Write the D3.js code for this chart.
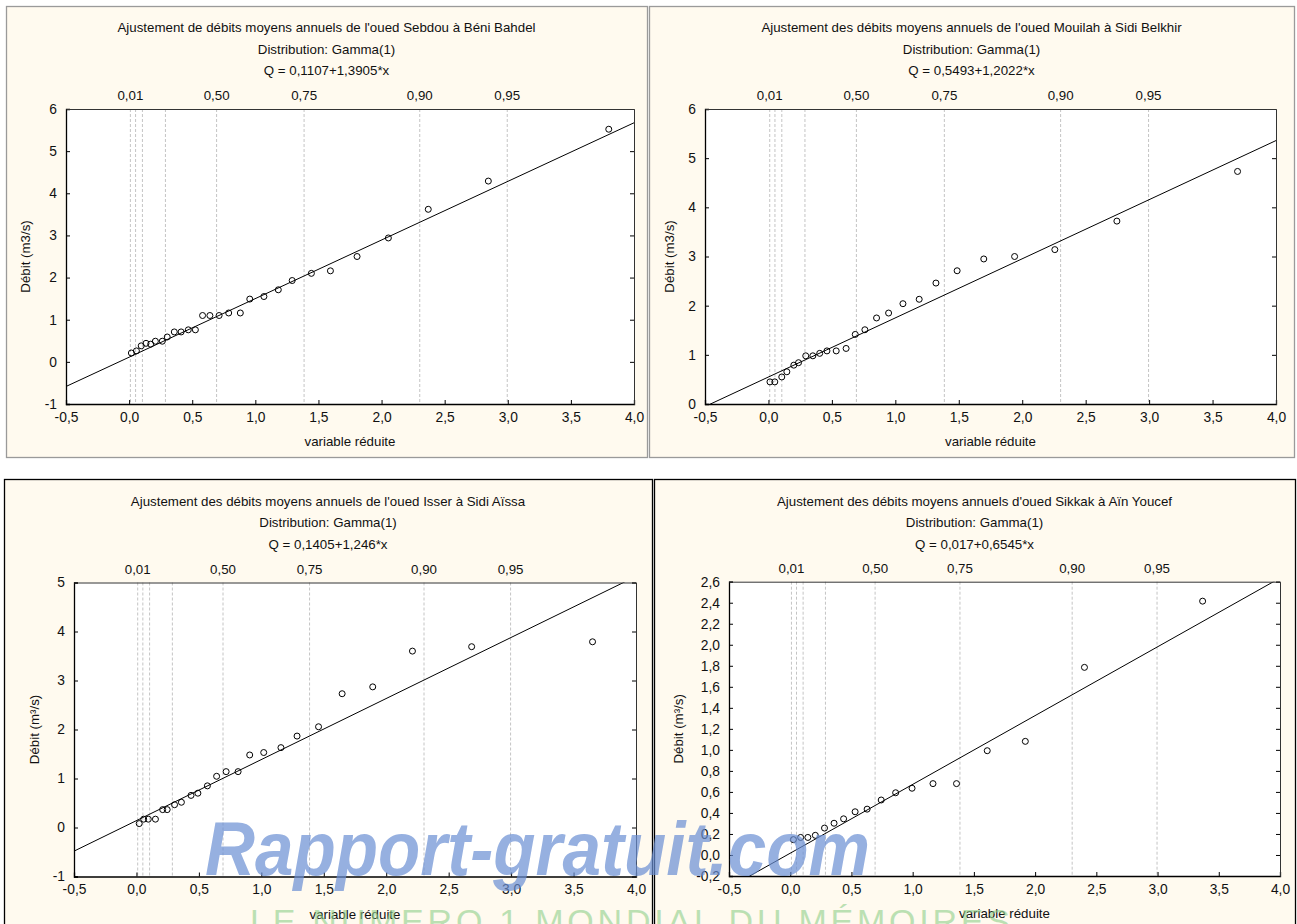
<!DOCTYPE html>
<html><head><meta charset="utf-8">
<script src="https://cdn.jsdelivr.net/npm/d3@7/dist/d3.min.js"></script>
<style>
html,body{margin:0;padding:0;background:#fff;}
svg{display:block;font-family:"Liberation Sans",Arial,sans-serif;}
</style></head>
<body><svg id="c" width="1297" height="924"></svg>
<script>
// ---------- DATA ----------
const xTicks = [-0.5,0,0.5,1,1.5,2,2.5,3,3.5,4];
const probLines = [0.01,0.05,0.10,0.25,0.50,0.75,0.90,0.95];
const probLabels = [0.01,0.50,0.75,0.90,0.95];

const titles = [
  "Ajustement de débits moyens annuels de l'oued Sebdou à Béni Bahdel",
  "Ajustement des débits moyens annuels de l'oued Mouilah à Sidi Belkhir",
  "Ajustement des débits moyens annuels de l'oued Isser à Sidi Aïssa",
  "Ajustement des débits moyens annuels d'oued Sikkak à Aïn Youcef"
];
const subtitle = "Distribution: Gamma(1)";
const equations = ["Q = 0,1107+1,3905*x","Q = 0,5493+1,2022*x","Q = 0,1405+1,246*x","Q = 0,017+0,6545*x"];
const fitIntercepts = [0.1107,0.5493,0.1405,0.017];
const fitSlopes = [1.3905,1.2022,1.246,0.6545];

const sebdouX = [0.018,0.058,0.096,0.134,0.171,0.208,0.263,0.302,0.358,0.412,0.469,0.525,0.582,0.64,0.713,0.789,0.881,0.956,1.068,1.182,1.292,1.444,1.595,1.806,2.054,2.37,2.846,3.80];
const sebdouY = [0.21,0.26,0.38,0.44,0.42,0.49,0.49,0.59,0.71,0.71,0.76,0.76,1.10,1.10,1.10,1.16,1.16,1.49,1.55,1.71,1.93,2.10,2.16,2.50,2.94,3.62,4.29,5.52];

const mouilahX = [0.012,0.05,0.105,0.145,0.2,0.237,0.294,0.35,0.404,0.461,0.534,0.612,0.684,0.76,0.852,0.947,1.06,1.188,1.32,1.487,1.697,1.94,2.257,2.746,3.697];
const mouilahY = [0.45,0.45,0.55,0.655,0.79,0.84,0.98,0.98,1.03,1.08,1.08,1.13,1.415,1.51,1.75,1.85,2.04,2.13,2.46,2.71,2.95,3.0,3.14,3.72,4.73];

const isserX = [0.022,0.058,0.095,0.152,0.21,0.246,0.305,0.36,0.437,0.492,0.568,0.642,0.718,0.814,0.907,1.019,1.157,1.286,1.458,1.647,1.892,2.21,2.684,3.652];
const isserY = [0.08,0.17,0.17,0.17,0.365,0.365,0.465,0.515,0.655,0.70,0.85,1.045,1.14,1.14,1.48,1.53,1.63,1.866,2.056,2.73,2.87,3.6,3.69,3.79];

const sikkakX = [0.026,0.085,0.144,0.205,0.28,0.358,0.436,0.53,0.628,0.743,0.861,0.995,1.166,1.358,1.609,1.92,2.403,3.368];
const sikkakY = [0.146,0.167,0.167,0.187,0.256,0.302,0.344,0.411,0.436,0.523,0.592,0.635,0.679,0.679,0.992,1.081,1.785,2.415];

const yTicksA = [-1,0,1,2,3,4,5,6];
const yTicksB = [0,1,2,3,4,5,6];
const yTicksC = [-1,0,1,2,3,4,5];
const yTicksD = [-0.2,0,0.2,0.4,0.6,0.8,1.0,1.2,1.4,1.6,1.8,2.0,2.2,2.4,2.6];

// ---------- LAYOUT ----------
const panels = [
  {frame:[6,6,641,451], stroke:"#9a9a9a", plot:[66,109,634,404], yDom:[-1,6], yT:yTicksA, dec:0, xs:sebdouX, ys:sebdouY, ylab:"Débit  (m3/s)", ylx:26, top:true},
  {frame:[649,6,645,451], stroke:"#9a9a9a", plot:[705,109,1276,404], yDom:[0,6], yT:yTicksB, dec:0, xs:mouilahX, ys:mouilahY, ylab:"Débit  (m3/s)", ylx:670, top:true},
  {frame:[4,479,648,460], stroke:"#000", plot:[74,582.5,636,876.5], yDom:[-1,5], yT:yTicksC, dec:0, xs:isserX, ys:isserY, ylab:"Débit  (m³/s)", ylx:35, top:false},
  {frame:[654,479,641,460], stroke:"#000", plot:[729,581.7,1280,876], yDom:[-0.2,2.6], yT:yTicksD, dec:1, xs:sikkakX, ys:sikkakY, ylab:"Débit  (m³/s)", ylx:679, top:false}
];

const svg = d3.select("#c");
const fmt1 = d => d3.format(".1f")(d).replace(".",",").replace("−","-");
const fmt2 = d => d3.format(".2f")(d).replace(".",",");
const probToX = p => -Math.log(1-p);   // Gamma(1) quantile axis
const FS = 13.3;

panels.forEach((P,i)=>{
  const g = svg.append("g");
  const [fx,fy,fw,fh] = P.frame;
  g.append("rect").attr("x",fx+0.5).attr("y",fy+0.5).attr("width",fw).attr("height",fh)
    .attr("fill","#fffaef").attr("stroke",P.stroke).attr("stroke-width",1.3);
  const [x0,y0,x1,y1] = P.plot;
  const x = d3.scaleLinear().domain([-0.5,4]).range([x0,x1]);
  const y = d3.scaleLinear().domain(P.yDom).range([y1,y0]);
  const cx = fx + fw/2;

  // titles
  const tY = fy + (P.top ? 21 : 21.7);
  [titles[i], subtitle, equations[i]].forEach((t,k)=>{
    g.append("text").attr("x",cx).attr("y",tY + 21.7*k + 4.8).attr("text-anchor","middle")
      .attr("font-size",FS).attr("fill","#111").text(t);
  });

  // plot background
  g.append("rect").attr("x",x0).attr("y",y0).attr("width",x1-x0).attr("height",y1-y0).attr("fill","#fff");

  // dashed probability lines
  g.selectAll(".pl").data(probLines).join("line")
    .attr("x1",d=>x(probToX(d))).attr("x2",d=>x(probToX(d)))
    .attr("y1",y0).attr("y2",y1).attr("stroke","#c4c4c4").attr("stroke-width",1).attr("stroke-dasharray","3,2");

  // top probability labels
  g.selectAll(".plab").data(probLabels).join("text")
    .attr("x",d=>x(probToX(d))).attr("y",y0-9).attr("text-anchor","middle")
    .attr("font-size",FS).attr("fill","#111").text(fmt2);

  // clip
  const cid = "clip"+i;
  g.append("clipPath").attr("id",cid).append("rect").attr("x",x0).attr("y",y0).attr("width",x1-x0).attr("height",y1-y0);

  // fit line
  const line = d3.line().x(d=>x(d)).y(d=>y(fitIntercepts[i]+fitSlopes[i]*d));
  g.append("path").attr("d",line([-0.5,4])).attr("clip-path",`url(#${cid})`)
    .attr("fill","none").attr("stroke","#000").attr("stroke-width",1);

  // points
  g.selectAll(".pt").data(P.xs.map((v,k)=>[v,P.ys[k]])).join("circle")
    .attr("cx",d=>x(d[0])).attr("cy",d=>y(d[1])).attr("r",3)
    .attr("fill","none").attr("stroke","#000").attr("stroke-width",1);

  // axes (ticks inside)
  const fmtY = P.dec ? fmt1 : (d=>String(d).replace("−","-"));
  const axB = g.append("g").attr("transform",`translate(0,${y1})`)
    .call(d3.axisBottom(x).tickValues(xTicks).tickSize(-4).tickPadding(8).tickFormat(fmt1));
  const axL = g.append("g").attr("transform",`translate(${x0},0)`)
    .call(d3.axisLeft(y).tickValues(P.yT).tickSize(-4).tickPadding(9).tickFormat(fmtY));
  const axR = g.append("g").attr("transform",`translate(${x1},0)`)
    .call(d3.axisRight(y).tickValues(P.yT).tickSize(-4).tickFormat(""));
  const axT = g.append("g").attr("transform",`translate(0,${y0})`)
    .call(d3.axisTop(x).tickValues([]).tickSize(0));
  [axB,axL,axR,axT].forEach(a=>{
    a.select(".domain").attr("stroke","#000").attr("stroke-width",1.3);
    a.selectAll(".tick line").attr("stroke","#000");
    a.selectAll("text").attr("font-size",13.8).attr("fill","#111").attr("font-family","Liberation Sans, Arial, sans-serif");
  });
  axR.select(".domain").attr("stroke","#333").attr("stroke-width",1);
  axT.select(".domain").attr("stroke","#333").attr("stroke-width",1);

  // axis titles
  g.append("text").attr("x",(x0+x1)/2).attr("y",y1+42).attr("text-anchor","middle")
    .attr("font-size",FS).attr("fill","#111").text("variable réduite");
  g.append("text").attr("transform",`translate(${P.ylx+4},${(y0+y1)/2}) rotate(-90)`)
    .attr("text-anchor","middle").attr("font-size",FS).attr("fill","#111").text(P.ylab);
});

// watermark overlay
const wm = svg.append("g").attr("pointer-events","none");
wm.append("text").attr("x",205).attr("y",875).attr("font-size",76).attr("font-style","italic").attr("font-weight","bold")
  .attr("font-family","Liberation Sans, Arial, sans-serif").attr("fill","#6a8fd4").attr("opacity",0.7)
  .attr("textLength",665).attr("lengthAdjust","spacingAndGlyphs").text("Rapport-gratuit.com");
wm.append("text").attr("x",250).attr("y",933).attr("font-size",34)
  .attr("font-family","Liberation Sans, Arial, sans-serif").attr("fill","#8fcf8a").attr("opacity",0.6)
  .attr("textLength",760).attr("lengthAdjust","spacing").text("LE NUMERO 1 MONDIAL DU MÉMOIRES");
</script></body></html>
